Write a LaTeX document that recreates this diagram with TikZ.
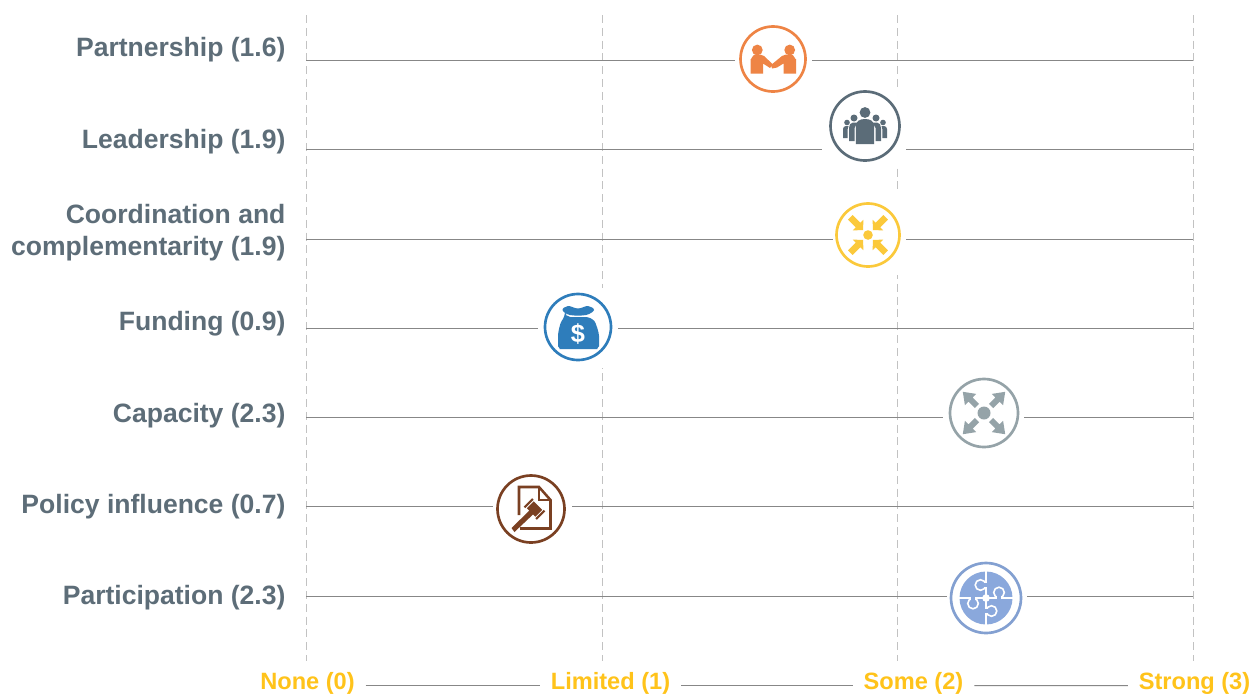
\documentclass[tikz,border=0pt]{standalone}
\usepackage{fontspec}
\setmainfont{Liberation Sans}
\definecolor{lab}{HTML}{5D6D78}
\definecolor{axl}{HTML}{FFC31A}
\definecolor{org}{HTML}{EE8445}
\definecolor{ldr}{HTML}{5B6C78}
\definecolor{yel}{HTML}{FBC93B}
\definecolor{blu}{HTML}{2E7DBB}
\definecolor{gry}{HTML}{95A3A8}
\definecolor{brn}{HTML}{7A4022}
\definecolor{puz}{HTML}{8AA8DC}
\tikzset{
 x=0.75pt,y=-0.75pt,
 cat/.style={anchor=base east,font=\fontsize{19.9}{24}\selectfont\bfseries,text=lab,align=right,inner sep=0},
 axis/.style={anchor=base,font=\fontsize{17.7}{22}\selectfont\bfseries,text=axl,inner sep=0},
 grid/.style={draw=black!47,line width=0.7pt},
 vgrid/.style={draw=black!24,line width=0.75pt,dash pattern=on 6pt off 3.6pt},
 halo/.style={fill=white,draw=none},
 ring/.style={line width=2pt,fill=white,draw=#1},
}
\begin{document}
\begin{tikzpicture}
\useasboundingbox (0,0) rectangle (1252,693);
\fill[white] (0,0) rectangle (1252,693);
% anchors
\foreach \n/\x in {v0/306,v1/602,v2/897,v3/1193}{
  \coordinate (\n t) at (\x,15); \coordinate (\n b) at (\x,661);
  \draw[vgrid] (\n t)--(\n b);}
\foreach \n/\y in {h1/60,h2/149.5,h3/239,h4/328,h5/417.5,h6/506.5,h7/596}{
  \coordinate (\n l) at (306,\y); \coordinate (\n r) at (1193,\y);
  \draw[grid] (\n l)--(\n r);}
% halos
\fill[halo] (735,24) rectangle (812,95);
\fill[halo] (822,87) rectangle (906,165);
\fill[halo] (833,193) rectangle (906,275);
\fill[halo] (538,288) rectangle (618,368);
\fill[halo] (943,375) rectangle (1024,452);
\fill[halo] (493,472) rectangle (572,546);
\fill[halo] (947,560) rectangle (1027,636);
% labels
\node[cat] (c1) at (285.7,56.7) {Partnership (1.6)};
\node[cat] (c2) at (285.7,148.7) {Leadership (1.9)};
\node[cat] (c3a) at (285.7,223.7) {Coordination and};
\node[cat] (c3b) at (285.7,255.7) {complementarity (1.9)};
\node[cat] (c4) at (285.7,330.7) {Funding (0.9)};
\node[cat] (c5) at (285.7,422.7) {Capacity (2.3)};
\node[cat] (c6) at (285.7,513.7) {Policy influence (0.7)};
\node[cat] (c7) at (285.7,604.7) {Participation (2.3)};
% axis
\node[axis] (a0) at (307.5,689) {None (0)};
\node[axis] (a1) at (610.5,689) {Limited (1)};
\node[axis] (a2) at (913.5,689) {Some (2)};
\node[axis] (a3) at (1194.5,689) {Strong (3)};
\draw[grid] ([xshift=8pt,yshift=-2pt]a0.east)--([xshift=-8pt,yshift=-2pt]a1.west);
\draw[grid] ([xshift=8pt,yshift=-2pt]a1.east)--([xshift=-8pt,yshift=-2pt]a2.west);
\draw[grid] ([xshift=8pt,yshift=-2pt]a2.east)--([xshift=-8pt,yshift=-2pt]a3.west);
% Partnership
\begin{scope}[shift={(773,59)}]
 \draw[ring=org] (0,0) circle (32.5);
 \fill[org] (-15.7,-9) circle (5.4) (16.7,-9) circle (5.4);
 \fill[org] (-22.5,0) to[out=-90,in=180] (-18,-4.5) -- (-13,-4.5) to[out=0,in=145] (-9,-3) -- (0,5.5) -- (-3,9) -- (-10,4.5) -- (-10,14.5) -- (-22.5,14.5) -- cycle;
 \fill[org] (23,0) to[out=-90,in=0] (18.5,-4.5) -- (13,-4.5) to[out=180,in=35] (9,-3) -- (-2,6) -- (-1,9.5) -- (4,8.5) -- (10.5,4.5) -- (10.5,14.5) -- (23,14.5) -- cycle;
\end{scope}
% Leadership
\begin{scope}[shift={(865,126)}]
 \draw[ring=ldr] (0,0) circle (34.5);
 \fill[ldr] (0,-13.5) circle (5.4);
 \fill[ldr] (-9.2,18) -- (-9.2,1) to[out=90,in=180,looseness=1.2] (0,-7) to[out=0,in=90,looseness=1.2] (9.2,1) -- (9.2,18) -- cycle;
 \fill[ldr] (-11,-8) circle (3.5) (11,-8) circle (3.5) (-18,-3.5) circle (2.8) (18,-3.5) circle (2.8);
 \fill[ldr] (-10.5,15) -- (-16,15) -- (-16,2) to[out=90,in=180] (-12,-3.5) -- (-6.5,-3.5) to[out=-120,in=90] (-10.5,2) -- cycle;
 \fill[ldr] (10.5,15) -- (16,15) -- (16,2) to[out=90,in=0] (12,-3.5) -- (6.5,-3.5) to[out=-60,in=90] (10.5,2) -- cycle;
 \fill[ldr] (-17.3,12) -- (-22,12) -- (-22,3) to[out=90,in=180] (-19,0) -- (-16.5,0) -- (-17.3,3) -- cycle;
 \fill[ldr] (17.3,12) -- (22,12) -- (22,3) to[out=90,in=0] (19,0) -- (16.5,0) -- (17.3,3) -- cycle;
\end{scope}
% Coordination
\begin{scope}[shift={(868,235)}]
 \draw[ring=yel] (0,0) circle (31.5);
 \fill[yel] (0,0) circle (4.8);
 \foreach \a in {45,135,225,315}{\begin{scope}[rotate=\a]\fill[yel] (25,-3.2)--(14,-3.2)--(14,-7.5)--(7,0)--(14,7.5)--(14,3.2)--(25,3.2)--cycle;\end{scope}}
\end{scope}
% Funding
\begin{scope}[shift={(578,327)}]
 \draw[ring=blu] (0,0) circle (33);
 \fill[blu] plot[smooth cycle,tension=0.6] coordinates {(-15.5,-17) (-10,-21) (0,-18.5) (10,-21) (16,-17) (8,-12) (-8,-12)};
 \fill[blu,rounded corners=4pt] (-13,-10) -- (13,-10) .. controls (18,-4) and (21,6) .. (21,14) .. controls (21,20) and (18,22) .. (14,22) -- (-13,22) .. controls (-17,22) and (-20,20) .. (-20,14) .. controls (-20,6) and (-18,-4) .. cycle;
 \node[font=\fontsize{19}{19}\selectfont\bfseries,text=white,inner sep=0] (dollar) at (0,7.5) {\$};
\end{scope}
% Capacity
\begin{scope}[shift={(984,413)}]
 \draw[ring=gry] (0,0) circle (34);
 \fill[gry] (0,0) circle (6.5);
 \foreach \a in {45,135,225,315}{\begin{scope}[rotate=\a]\fill[gry] (10,-3)--(19,-3)--(19,-8)--(30,0)--(19,8)--(19,3)--(10,3)--cycle;\end{scope}}
\end{scope}
% Policy
\begin{scope}[shift={(531,509)}]
 \draw[ring=brn] (0,0) circle (33.5);
 \draw[brn,line width=1.9pt,line join=miter] (-12,6) -- (-12,-22) -- (8,-22) -- (19.5,-9) -- (19.5,19.5) -- (-11,19.5);
 \draw[brn,line width=0.8pt] (8,-21) -- (8,-9) -- (19,-9);
 \fill[brn] (-19.5,19) -- (-16.5,23) -- (3,4.5) -- (-0.5,0.5) -- cycle;
 \begin{scope}[shift={(3.5,0)},rotate=-45]
  \fill[brn] (-6,-4.8) rectangle (6,4.8);
  \fill[brn] (-9.3,-6) rectangle (-7.2,6);
  \fill[brn] (7.2,-6) rectangle (9.3,6);
 \end{scope}
\end{scope}
% Participation
\begin{scope}[shift={(986,598)}]
 \draw[ring=puz!95!black] (0,0) circle (35);
 \fill[puz] (0,0) circle (26.5);
 \draw[white,line width=1.2pt] (0,-27)--(0,27) (-27,0)--(27,0);
 \foreach \a in {0,-90,-180,-270}{
  \begin{scope}[rotate=\a]
   \draw[white,line width=1.2pt,fill=puz] (-5.5,-13) circle (5.3);
   \fill[puz] (-3,-15.2) rectangle (1.5,-10.8);
  \end{scope}}
 \fill[white] (0,0) circle (3.8);
\end{scope}
\end{tikzpicture}
\end{document}
